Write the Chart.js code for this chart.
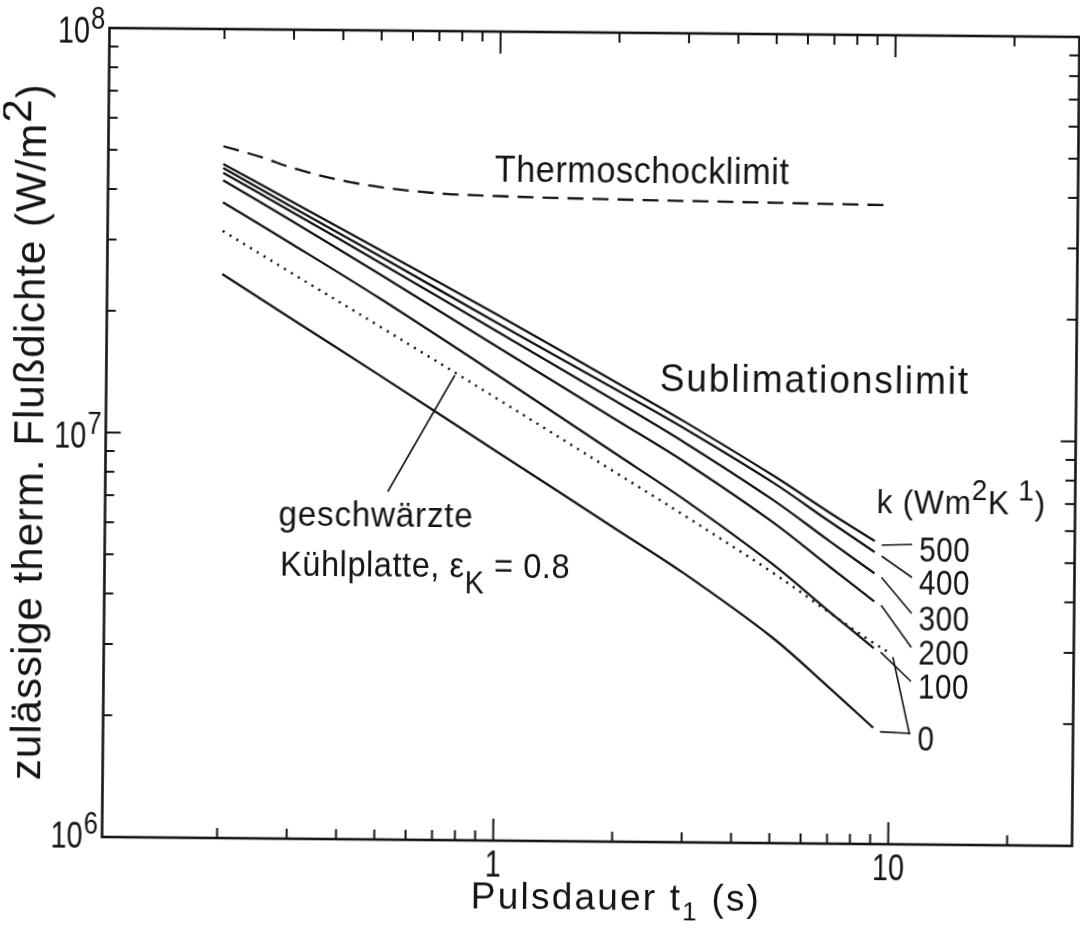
<!DOCTYPE html>
<html>
<head>
<meta charset="utf-8">
<title>Zulässige thermische Flußdichte</title>
<script src="https://cdn.jsdelivr.net/npm/chart.js@4.4.1/dist/chart.umd.min.js"></script>
<style>
  html, body { margin: 0; padding: 0; background: #fff; overflow: hidden; }
  /* the original is a slightly skewed scan */
  #chart { display: block; transform: rotate(0.53deg); }
</style>
</head>
<body>
<canvas id="chart" width="1080" height="928"></canvas>
<script>
// Pulsdauer t1 (s) for the k-curves
const pulseTimes = [0.2, 0.3, 0.5, 1, 2, 3, 5, 7, 9.1];

// zulässige therm. Flußdichte (W/m2), one array per k (Wm2K1)
const flux500 = [4.64e7, 3.75e7, 2.87e7, 1.99e7, 1.366e7, 1.093e7, 8.12e6, 6.57e6, 5.61e6];
const flux400 = [4.53e7, 3.64e7, 2.77e7, 1.90e7, 1.31e7, 1.051e7, 7.80e6, 6.25e6, 5.27e6];
const flux300 = [4.41e7, 3.54e7, 2.67e7, 1.81e7, 1.226e7, 9.71e6, 7.07e6, 5.59e6, 4.67e6];
const flux200 = [4.23e7, 3.36e7, 2.50e7, 1.66e7, 1.105e7, 8.70e6, 6.23e6, 4.84e6, 3.98e6];
const flux100 = [3.73e7, 2.95e7, 2.18e7, 1.415e7, 9.10e6, 7.02e6, 4.91e6, 3.75e6, 3.05e6];
const flux0 = [2.48e7, 1.93e7, 1.41e7, 9.16e6, 5.95e6, 4.62e6, 3.24e6, 2.44e6, 1.94e6];
const kValues = ['500', '400', '300', '200', '100', '0'];

// geschwärzte Kühlplatte (k = 0, eps_K = 0.8), dotted
const blackTimes = [0.2, 0.3, 0.5, 1, 2, 3, 5, 7, 9, 10];
const fluxBlack = [3.17e7, 2.50e7, 1.86e7, 1.237e7, 8.18e6, 6.42e6, 4.68e6, 3.73e6, 3.16e6, 2.97e6];

// Thermoschocklimit, dashed
const shockTimes = [0.2, 0.25, 0.3, 0.4, 0.5, 0.7, 1, 2, 5, 9.5];
const fluxShock = [5.13e7, 4.83e7, 4.55e7, 4.25e7, 4.10e7, 3.97e7, 3.92e7, 3.87e7, 3.83e7, 3.80e7];

// axis ticks
const xMajorTicks = [1, 10];
const xMinorTicks = [0.2, 0.3, 0.4, 0.5, 0.6, 0.7, 0.8, 0.9, 2, 3, 4, 5, 6, 7, 8, 9, 20];
const xTickLabels = ['1', '10'];
const yMajorTicks = [1e6, 1e7, 1e8];
const yMinorTicks = [2e6, 3e6, 4e6, 5e6, 6e6, 7e6, 8e6, 9e6, 2e7, 3e7, 4e7, 5e7, 6e7, 7e7, 8e7, 9e7];
const yTickExponents = ['6', '7', '8'];

const INK = '#141414';
const FONT = '"Liberation Sans", Arial, sans-serif';

function toPoints(ts, qs) {
    return ts.map((t, i) => ({ x: t, y: qs[i] }));
}

// draws text made of pieces (normal, raised or lowered) along one baseline;
// sx < 1 narrows the glyphs a little like the stencil lettering of the original
function drawRich(ctx, parts, x, y, align, spacing, sx) {
    sx = sx || 1;
    ctx.letterSpacing = (spacing || 0) + 'px';
    const widths = parts.map(p => {
        ctx.font = p[1] + 'px ' + FONT;
        return ctx.measureText(p[0]).width * sx;
    });
    const total = widths.reduce((s, w) => s + w, 0);
    let cx = align === 'center' ? x - total / 2 : align === 'right' ? x - total : x;
    ctx.textAlign = 'left';
    ctx.textBaseline = 'alphabetic';
    parts.forEach((p, i) => {
        ctx.font = p[1] + 'px ' + FONT;
        ctx.save();
        ctx.translate(cx, y + (p[2] || 0));
        ctx.scale(sx, 1);
        ctx.fillText(p[0], 0, 0);
        ctx.restore();
        cx += widths[i];
    });
    ctx.letterSpacing = '0px';
}

const fluxSeries = [flux500, flux400, flux300, flux200, flux100, flux0];

const datasets = fluxSeries.map((q, i) => ({
    label: 'k = ' + kValues[i],
    data: toPoints(pulseTimes, q),
    borderColor: INK,
    borderWidth: 2.3,
    pointRadius: 0,
    tension: 0.35,
    fill: false
}));

datasets.push({
    label: 'geschwärzte Kühlplatte',
    data: toPoints(blackTimes, fluxBlack),
    borderColor: INK,
    borderWidth: 2.4,
    borderDash: [2.2, 5.8],
    borderCapStyle: 'butt',
    pointRadius: 0,
    tension: 0.35,
    fill: false
});

datasets.push({
    label: 'Thermoschocklimit',
    data: toPoints(shockTimes, fluxShock),
    borderColor: INK,
    borderWidth: 2.3,
    borderDash: [16, 9],
    borderCapStyle: 'butt',
    pointRadius: 0,
    cubicInterpolationMode: 'monotone',
    fill: false
});

// frame, inward ticks, labels and annotations
const decorations = {
    id: 'decorations',
    afterDraw(chart) {
        const ctx = chart.ctx;
        const a = chart.chartArea;
        const xs = chart.scales.x;
        const ys = chart.scales.y;

        const seg = (x1, y1, x2, y2) => {
            ctx.beginPath();
            ctx.moveTo(x1, y1);
            ctx.lineTo(x2, y2);
            ctx.stroke();
        };

        ctx.save();
        ctx.strokeStyle = INK;
        ctx.fillStyle = INK;
        ctx.lineCap = 'butt';

        ctx.lineWidth = 2.6;
        ctx.strokeRect(a.left, a.top, a.right - a.left, a.bottom - a.top);

        ctx.lineWidth = 2;
        xMinorTicks.forEach(v => {
            const px = xs.getPixelForValue(v);
            seg(px, a.bottom, px, a.bottom - 10);
            seg(px, a.top, px, a.top + 10);
        });
        xMajorTicks.forEach(v => {
            const px = xs.getPixelForValue(v);
            seg(px, a.bottom, px, a.bottom - 22);
            seg(px, a.top, px, a.top + 22);
        });
        yMinorTicks.forEach(v => {
            const py = ys.getPixelForValue(v);
            seg(a.left, py, a.left + 9, py);
            seg(a.right, py, a.right - 10, py);
        });
        yMajorTicks.forEach(v => {
            const py = ys.getPixelForValue(v);
            seg(a.left, py, a.left + 15, py);
            seg(a.right, py, a.right - 15, py);
        });

        // tick labels
        xMajorTicks.forEach((v, i) => {
            drawRich(ctx, [[xTickLabels[i], 36]], xs.getPixelForValue(v), a.bottom + 36, 'center', 0, 0.8);
        });
        yMajorTicks.forEach((v, i) => {
            const py = ys.getPixelForValue(v);
            const base = Math.min(py + 15, a.bottom + 11);
            drawRich(ctx, [['10', 36]], 86, base, 'right', 0, 0.8);
            drawRich(ctx, [[yTickExponents[i], 32]], 87, base - 14, 'left', 0, 0.8);
        });

        // axis titles
        drawRich(ctx, [['Pulsdauer t', 37], ['1', 26, 10], [' (s)', 37]], 620, a.bottom + 68, 'center', 2.2);
        ctx.save();
        ctx.translate(43, (a.top + a.bottom) / 2);
        ctx.rotate(-Math.PI / 2);
        drawRich(ctx, [['zulässige therm. Flußdichte (W/m', 42], ['2', 42, -15], [')', 42]], 0, 0, 'center', 1);
        ctx.restore();

        // curve annotations
        drawRich(ctx, [['Thermoschocklimit', 36]], 492, 182, 'left', 0.6, 0.95);
        drawRich(ctx, [['Sublimationslimit', 39]], 659, 390, 'left', 2, 0.95);
        drawRich(ctx, [['geschwärzte', 35]], 279, 528, 'left', 0.8, 0.95);
        drawRich(ctx, [['Kühlplatte, ε', 35], ['K', 31, 16], [' = 0.8', 35]], 281, 578, 'left', 0.6, 0.93);
        drawRich(ctx, [['k (Wm', 34], ['2', 30, -14], ['K', 34], [' 1', 30, -14], [')', 34]], 877, 510, 'left', 0.8, 0.93);

        const labelBaselines = [558, 591, 627, 661, 695, 747];
        ctx.lineWidth = 1.6;
        kValues.forEach((k, i) => {
            drawRich(ctx, [[k, 35]], 920, labelBaselines[i], 'left', 0.5, 0.85);
            const q = fluxSeries[i];
            const ex = xs.getPixelForValue(pulseTimes[pulseTimes.length - 1]);
            const ey = ys.getPixelForValue(q[q.length - 1]);
            seg(ex + 7, ey + 4, 913, labelBaselines[i] - 17);
        });
        // second leader for the blackened plate curve to the "0" label
        const bx = xs.getPixelForValue(blackTimes[blackTimes.length - 1]);
        const by = ys.getPixelForValue(fluxBlack[fluxBlack.length - 1]);
        seg(bx + 3, by + 4, 912, labelBaselines[5] - 16);
        // leader for "geschwärzte Kühlplatte"
        seg(454, 376, 388, 493);

        ctx.restore();
    }
};

new Chart(document.getElementById('chart').getContext('2d'), {
    type: 'line',
    data: { datasets: datasets },
    options: {
        responsive: false,
        animation: false,
        layout: { padding: { left: 105.5, top: 32, right: 4.5, bottom: 87 } },
        plugins: {
            legend: { display: false },
            tooltip: { enabled: false }
        },
        scales: {
            x: { type: 'logarithmic', min: 0.1023, max: 29.2, display: false },
            y: { type: 'logarithmic', min: 1e6, max: 1e8, display: false }
        }
    },
    plugins: [decorations]
});
</script>
</body>
</html>
